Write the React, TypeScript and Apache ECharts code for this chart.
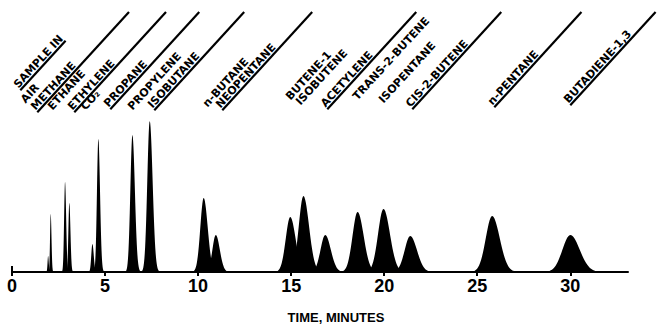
import React, { useEffect, useRef } from "react";
import * as echarts from "echarts";

// Retention time (min), peak height (detector units) and peak width (sigma, min)
const PEAK_TIMES = [1.94, 2.08, 2.85, 3.08, 4.32, 4.64, 6.47, 7.4, 10.3, 10.95, 14.95, 15.66, 16.83, 18.57, 19.96, 21.4, 25.8, 30.0];
const PEAK_HEIGHTS = [16, 58, 90, 69, 28, 133, 137, 151, 74, 37, 55, 76, 37, 60, 63, 36, 56, 37];
const PEAK_WIDTHS = [0.03, 0.035, 0.05, 0.05, 0.06, 0.075, 0.11, 0.13, 0.18, 0.18, 0.24, 0.25, 0.25, 0.27, 0.29, 0.3, 0.34, 0.42];

const TIME_TICKS = [0, 5, 10, 15, 20, 25, 30];
const TIME_MAX = 33.1;
const INJECTION_TIME = 0;

// Component names written above the trace, and how each one is underlined
const COMPONENTS = [
  "SAMPLE IN", "AIR", "METHANE", "ETHANE", "ETHYLENE", "CO₂", "PROPANE", "PROPYLENE", "ISOBUTANE",
  "n-BUTANE", "NEOPENTANE", "BUTENE-1", "ISOBUTENE", "ACETYLENE", "TRANS-2-BUTENE", "ISOPENTANE",
  "CIS-2-BUTENE", "n-PENTANE", "BUTADIENE-1,3",
];
const UNDERLINES = [
  "short", "none", "long", "none", "long", "none", "long", "none", "long",
  "none", "long", "none", "none", "long", "none", "none",
  "long", "long", "long",
];

// Layout: pixel anchor (lower-left corner) of each slanted label
const LABEL_ANCHORS: [number, number][] = [
  [20, 90], [27, 105], [37, 112], [54, 112], [74, 112], [87, 112], [110, 109], [134, 112], [154, 110],
  [209, 109], [222, 110], [292, 102], [302, 107], [327, 109], [359, 102], [385, 105],
  [412, 109], [494, 107], [570, 105],
];

const LABEL_FONT = 'bold 11px "DejaVu Sans", sans-serif';
const LABEL_ANGLE = 0.83; // slant of names and their leader lines, radians
const LEADER_TOP = 12;

function measure(text: string, font: string): number {
  const ctx = document.createElement("canvas").getContext("2d");
  if (!ctx) return text.length * 8;
  ctx.font = font;
  return ctx.measureText(text).width;
}

export default function App() {
  const ref = useRef<HTMLDivElement>(null);

  useEffect(() => {
    document.body.style.margin = "0";
    const chart = echarts.init(ref.current!, null, { renderer: "svg" });

    const peakData = PEAK_TIMES.map((t, i) => [t, PEAK_HEIGHTS[i], PEAK_WIDTHS[i]]);

    const cosA = Math.cos(LABEL_ANGLE);
    const sinA = Math.sin(LABEL_ANGLE);
    const graphics: any[] = [];
    COMPONENTS.forEach((name, i) => {
      const [x, y] = LABEL_ANCHORS[i];
      graphics.push({
        type: "text",
        x,
        y,
        rotation: LABEL_ANGLE,
        style: {
          text: name,
          font: LABEL_FONT,
          fill: "#000",
          textAlign: "left",
          textVerticalAlign: "bottom",
        },
      });
      const kind = UNDERLINES[i];
      if (kind === "none") return;
      // underline sits just below the baseline, along the text direction
      const ux = x + 0.4 * sinA;
      const uy = y + 0.4 * cosA;
      const len = kind === "short" ? measure(name, LABEL_FONT) : (uy - LEADER_TOP) / sinA;
      graphics.push({
        type: "line",
        shape: { x1: ux, y1: uy, x2: ux + len * cosA, y2: uy - len * sinA },
        style: { stroke: "#000", lineWidth: 2.2 },
      });
    });
    graphics.push({
      type: "text",
      x: 336,
      y: 317,
      style: {
        text: "TIME, MINUTES",
        font: 'bold 13px "Liberation Sans", sans-serif',
        fill: "#000",
        textAlign: "center",
        textVerticalAlign: "middle",
      },
    });

    chart.setOption({
      animation: false,
      backgroundColor: "#fff",
      grid: { left: 12, right: 672 - 12 - TIME_MAX * 18.61, top: 112, bottom: 55, containLabel: false, outerBoundsMode: "none" },
      xAxis: {
        type: "value",
        min: 0,
        max: TIME_MAX,
        interval: 5,
        splitLine: { show: false },
        axisLine: { lineStyle: { color: "#000", width: 2 } },
        axisTick: { length: 4, lineStyle: { color: "#000", width: 2 }, customValues: TIME_TICKS },
        axisLabel: {
          customValues: TIME_TICKS,
          formatter: (v: number) => (TIME_TICKS.includes(v) ? String(v) : ""),
          color: "#000",
          fontSize: 18,
          fontWeight: "bold",
          fontFamily: '"Liberation Sans", sans-serif',
          margin: 5,
        },
      },
      yAxis: { type: "value", min: 0, max: 160, show: false },
      series: [
        {
          // one filled, slightly tailing peak per component
          type: "custom",
          data: peakData,
          encode: { x: 0, y: 1 },
          renderItem: (_params: any, api: any) => {
            const t = api.value(0);
            const h = api.value(1);
            const s = api.value(2);
            const pts: number[][] = [];
            const lo = t - 4 * s;
            const hi = t + 5 * s;
            const n = 60;
            for (let k = 0; k <= n; k++) {
              const x = lo + ((hi - lo) * k) / n;
              const sd = x < t ? s : s * 1.2;
              const y = h * Math.exp(-0.5 * ((x - t) / sd) ** 2);
              pts.push(api.coord([x, y]));
            }
            return { type: "polygon", shape: { points: pts }, style: { fill: "#000" } };
          },
        },
        {
          // injection mark at time zero
          type: "line",
          data: [[INJECTION_TIME, 0], [INJECTION_TIME, 6]],
          symbol: "none",
          lineStyle: { color: "#000", width: 2 },
        },
      ],
      graphic: graphics,
    });

    return () => chart.dispose();
  }, []);

  return <div ref={ref} style={{ width: 672, height: 327 }} />;
}
